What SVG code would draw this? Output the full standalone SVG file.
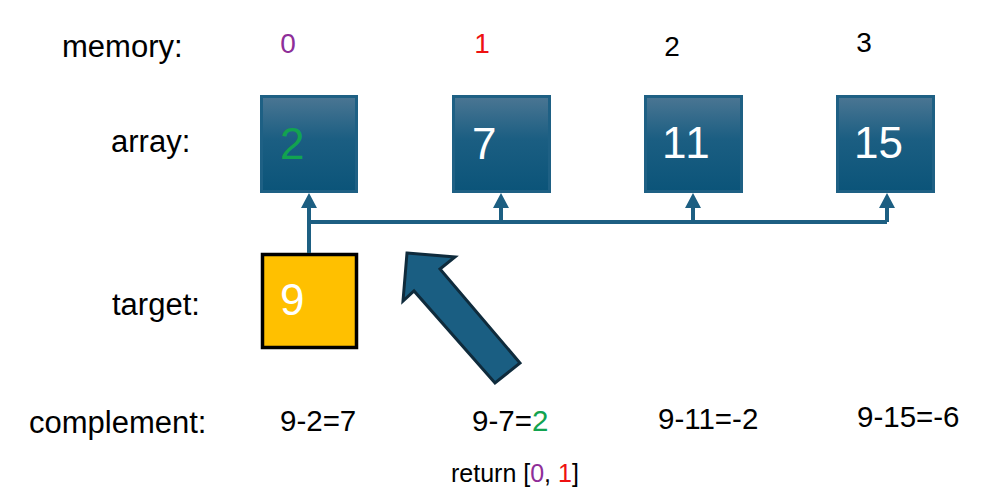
<svg xmlns="http://www.w3.org/2000/svg" width="985" height="498" viewBox="0 0 985 498">
<defs>
<linearGradient id="boxGrad" x1="0" y1="0" x2="0" y2="1">
<stop offset="0" stop-color="#4b7693"/>
<stop offset="0.45" stop-color="#1b5e82"/>
<stop offset="1" stop-color="#0b5479"/>
</linearGradient>
</defs>
<style>
text{font-family:"Liberation Sans",Arial,sans-serif;}
.lbl{font-size:31px;fill:#000;}
.idx{font-size:28px;text-anchor:middle;}
.num{font-size:44px;fill:#fff;}
.box{fill:url(#boxGrad);stroke:#1e6084;stroke-width:3;}
.conn{fill:none;stroke:#1d5f82;stroke-width:4;}
.head{fill:#1d5f82;}
.eq{font-size:29.5px;fill:#000;}
</style>
<rect width="985" height="498" fill="#fff"/>

<g id="labels">
<text class="lbl" x="62" y="57">memory:</text>
<text class="lbl" x="111" y="152">array:</text>
<text class="lbl" x="112" y="315">target:</text>
<text class="lbl" x="29" y="433" font-size="32">complement:</text>
</g>

<g id="memory">
<text class="idx" x="288" y="53" fill="#8e2e99">0</text>
<text class="idx" x="482" y="53" fill="#ee1111">1</text>
<text class="idx" x="672" y="56" fill="#000">2</text>
<text class="idx" x="864" y="52" fill="#000">3</text>
</g>

<g id="node-a0">
<rect class="box" x="261.5" y="96.5" width="95" height="95"/>
<text class="num" x="280" y="159" style="fill:#12a350">2</text>
</g>
<g id="node-a1">
<rect class="box" x="453.5" y="96.5" width="96" height="95"/>
<text class="num" x="472" y="159">7</text>
</g>
<g id="node-a2">
<rect class="box" x="645.5" y="96.5" width="96" height="95"/>
<text class="num" x="662" y="158" letter-spacing="2">11</text>
</g>
<g id="node-a3">
<rect class="box" x="837.5" y="96.5" width="96" height="95"/>
<text class="num" x="854" y="158">15</text>
</g>

<g id="node-target">
<rect x="262.5" y="254.5" width="94" height="93" fill="#ffc000" stroke="#000" stroke-width="3.5"/>
<text class="num" x="280" y="315">9</text>
</g>

<g id="connectors">
<path class="conn" d="M309,253 V208"/>
<path class="conn" d="M309,222 H887"/>
<path class="conn" d="M501,222 V208"/>
<path class="conn" d="M693,222 V208"/>
<path class="conn" d="M887,222 V208"/>
<path class="head" d="M301,208 L309,193 L317,208 Z"/>
<path class="head" d="M493,208 L501,193 L509,208 Z"/>
<path class="head" d="M685,208 L693,193 L701,208 Z"/>
<path class="head" d="M879,208 L887,193 L895,208 Z"/>
</g>

<g id="big-arrow">
<path d="M407,253 L455,257 L440,269 L520,363 L495,383 L414,291 L403,301 Z" fill="#1a5e82" stroke="#0f2b3c" stroke-width="3" stroke-linejoin="miter"/>
</g>

<g id="complements">
<text class="eq" x="280" y="431">9-2=7</text>
<text class="eq" x="472" y="431">9-7=<tspan fill="#12a350">2</tspan></text>
<text class="eq" x="658" y="429">9-11=-2</text>
<text class="eq" x="857" y="427">9-15=-6</text>
</g>

<g id="result">
<text x="451" y="482" font-size="25">return [<tspan fill="#8e2e99">0</tspan>, <tspan fill="#ee1111">1</tspan>]</text>
</g>
</svg>
